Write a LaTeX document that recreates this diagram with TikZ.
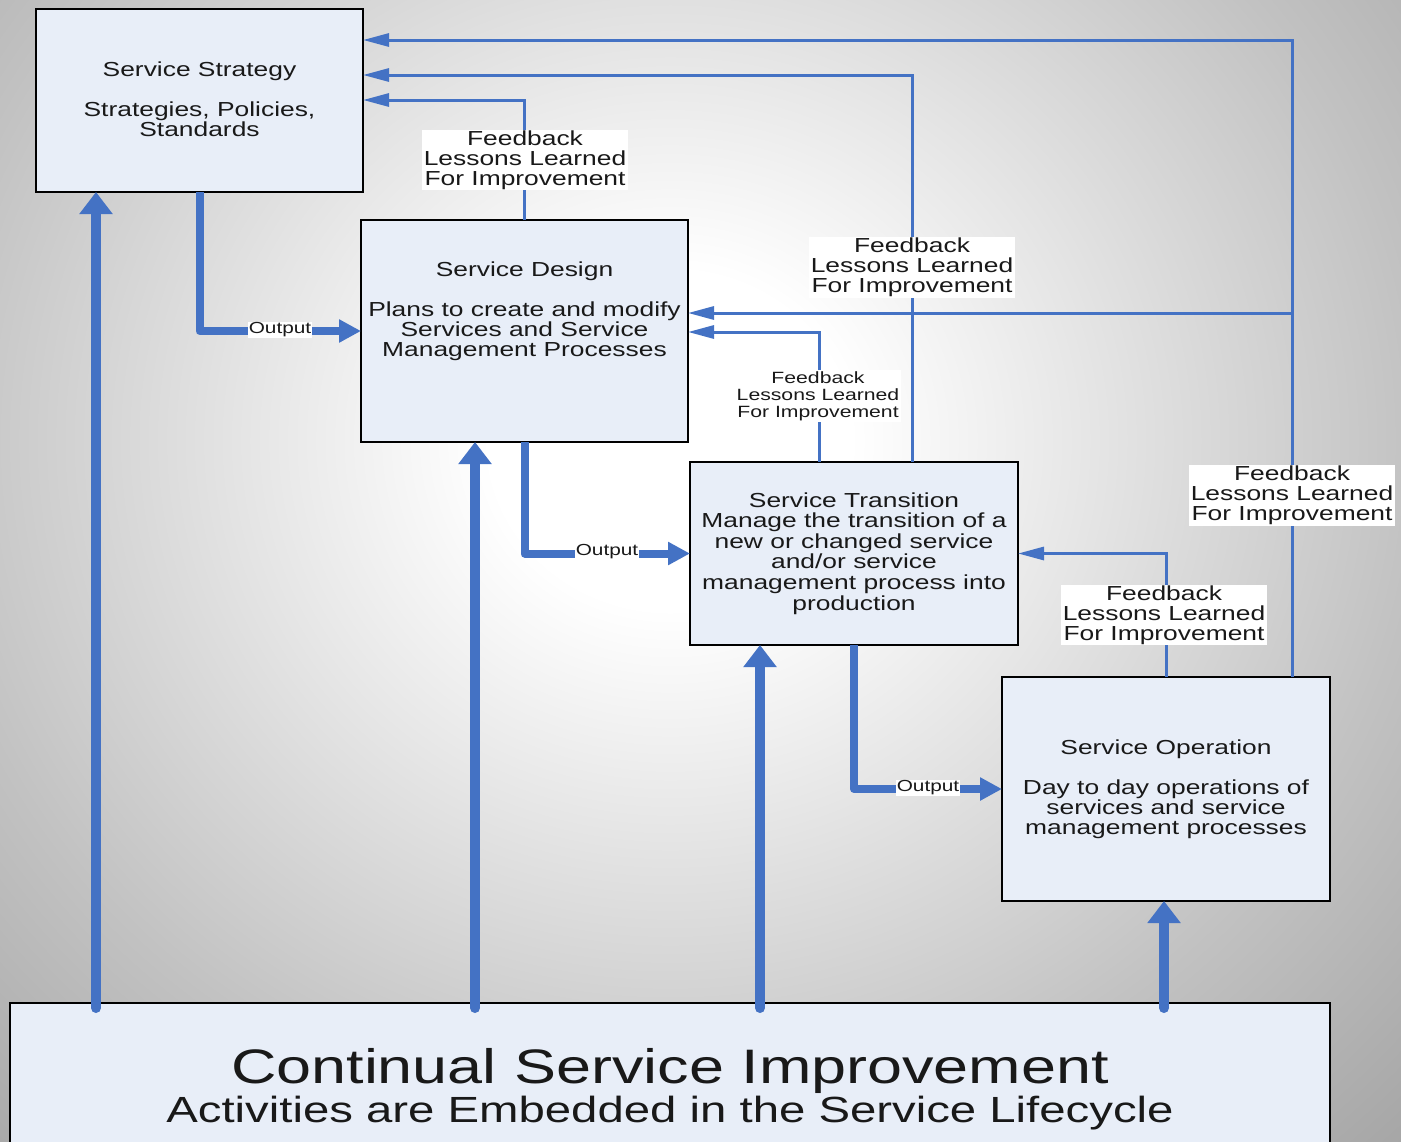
\documentclass[tikz,border=0pt]{standalone}
\usepackage{fontspec}
\setmainfont{Liberation Sans}[FakeStretch=1.3]
\usetikzlibrary{arrows.meta,calc}

\definecolor{itilblue}{RGB}{68,114,196}
\definecolor{boxfill}{RGB}{232,238,248}
\definecolor{inkgray}{RGB}{25,25,25}

% soft grey backdrop, light in the middle
\pgfdeclareradialshading{backdrop}{\pgfpoint{0bp}{0bp}}{%
  color(0bp)=(white); color(6bp)=(white); color(14bp)=(black!10);
  color(25bp)=(black!24); color(36bp)=(black!36); color(50bp)=(black!36)}

\tikzset{
  stage/.style={rectangle, draw=black, line width=0.9pt, fill=boxfill,
    inner sep=0pt, outer sep=0pt},
  boxtext/.style={font=\fontsize{10.15}{10}\selectfont, text=inkgray,
    align=center, inner sep=0pt, anchor=north},
  fblabel/.style={fill=white, text=inkgray, font=\fontsize{10.15}{10}\selectfont,
    align=center, inner xsep=1pt, inner ysep=0.5pt},
  fbsmall/.style={fill=white, text=inkgray, font=\fontsize{8.15}{8.5}\selectfont,
    align=center, inner xsep=1pt, inner ysep=0.5pt},
  outlabel/.style={fill=white, text=inkgray, font=\fontsize{8}{9}\selectfont,
    inner xsep=0.5pt, inner ysep=0.5pt},
  fb/.style={draw=itilblue, line width=1.5pt,
    -{Triangle[length=13pt,width=6.5pt]}},
  outarrow/.style={draw=itilblue, line width=4pt, line join=round,
    -{Triangle[length=11pt,width=11pt]}},
  improve/.style={draw=itilblue, line width=5pt, line cap=round,
    -{Triangle[length=11pt,width=16pt]}},
}

\begin{document}
\begin{tikzpicture}[x=0.5pt,y=-0.5pt]
\useasboundingbox (0,0) rectangle (1401,1141);

% backdrop
\begin{scope}
  \clip (0,0) rectangle (1401,1141);
  \fill[black!36] (0,0) rectangle (1401,1141);
  \shade[shading=backdrop] (-80,-260) rectangle (1420,1141);
\end{scope}

% lifecycle stages
\node[stage, minimum width=163.5pt, minimum height=91.5pt] (strategy)   at (199.5,100.5) {};
\node[stage, minimum width=163.5pt, minimum height=111pt]  (design)     at (524.5,331) {};
\node[stage, minimum width=164pt,   minimum height=91.5pt] (transition) at (854,553.5) {};
\node[stage, minimum width=164pt,   minimum height=112pt]  (operation)  at (1166,789) {};
\node[stage, minimum width=660pt,   minimum height=90pt]   (csi)        at (670,1093) {};

% stage texts
\node[boxtext] (strategy-text) at (199.5,61)
  {Service Strategy\\[10pt]Strategies, Policies,\\Standards};
\node[boxtext] (design-text) at (524.5,261)
  {Service Design\\[10pt]Plans to create and modify\\Services and Service\\Management Processes};
\node[boxtext, font=\fontsize{10.15}{10.3}\selectfont] (transition-text) at (854,492)
  {Service Transition\\Manage the transition of a\\new or changed service\\and/or service\\management process into\\production};
\node[boxtext] (operation-text) at (1166,739)
  {Service Operation\\[10pt]Day to day operations of\\services and service\\management processes};

\node[font=\fontsize{24.2}{28}\selectfont, text=inkgray, anchor=base, inner sep=0pt]
  (csi-title) at (670,1083) {Continual Service Improvement};
\node[font=\fontsize{18.2}{22}\selectfont, text=inkgray, anchor=base, inner sep=0pt]
  (csi-sub) at (670,1122) {Activities are Embedded in the Service Lifecycle};

% outputs handed down the lifecycle
\draw[outarrow] (strategy.south) |- (design.west);
\draw[outarrow] (design.south) |- (transition.west);
\draw[outarrow] (transition.south) |- (operation.west);

% feedback loops
\draw[fb] (design.north) |- ($(strategy.north east)+(0,91)$);
\draw[fb] ($(transition.north)+(58,0)$) |- ($(strategy.north east)+(0,66)$);
\draw[fb] ($(transition.north)+(-35,0)$) |- ($(design.north east)+(0,112)$);
\draw[fb] ($(operation.north)+(126,0)$) |- ($(strategy.north east)+(0,31)$);
\coordinate (fbjoin) at ($(operation.north)+(126,-364)$);
\draw[fb] (fbjoin) -- ($(design.north east)+(0,93)$);
\draw[fb] (operation.north) |- (transition.east);

% continual improvement feeding every stage
\draw[improve] ($(csi.north west)+(86,5)$)   -- ($(strategy.south west)+(60,0)$);
\draw[improve] ($(csi.north west)+(465,5)$)  -- ($(design.south west)+(114,0)$);
\draw[improve] ($(csi.north west)+(750,5)$)  -- ($(transition.south west)+(70,0)$);
\draw[improve] ($(csi.north west)+(1154,5)$) -- ($(operation.south west)+(162,0)$);

% labels on the connectors
\node[fblabel] (fb-design) at (525,160) {Feedback\\Lessons Learned\\For Improvement};
\node[fblabel] (fb-transition) at (912,267.5) {Feedback\\Lessons Learned\\For Improvement};
\node[fbsmall] (fb-transition-design) at (818,396) {Feedback\\Lessons Learned\\For Improvement};
\node[fblabel] (fb-operation) at (1292,495.5) {Feedback\\Lessons Learned\\For Improvement};
\node[fblabel] (fb-operation-transition) at (1164,615) {Feedback\\Lessons Learned\\For Improvement};

\node[outlabel] (out-strategy) at (280,330) {Output};
\node[outlabel] (out-design) at (607,552) {Output};
\node[outlabel] (out-transition) at (928,788) {Output};
\end{tikzpicture}
\end{document}
